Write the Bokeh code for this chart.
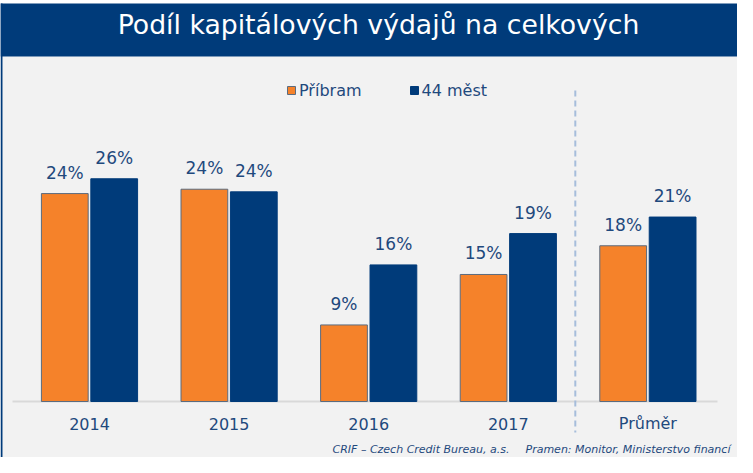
from bokeh.plotting import figure
from bokeh.models import ColumnDataSource, Range1d, Legend, LegendItem
from bokeh.transform import dodge
from bokeh.core.properties import value
from bokeh.embed import file_html
from bokeh.resources import INLINE

# ---- data ----
categories = ["2014", "2015", "2016", "2017", "Průměr"]
pribram = [23.9, 24.4, 8.8, 14.6, 17.9]
mest44 = [25.6, 24.1, 15.7, 19.3, 21.2]
series_names = ["Příbram", "44 měst"]
title_text = "Podíl kapitálových výdajů na celkových"
footer_left = "CRIF – Czech Credit Bureau, a.s."
footer_right = "Pramen: Monitor, Ministerstvo financí"

# ---- layout constants (pixels) ----
W, H = 737, 457
X0_PX, DX_PX = 89.0, 139.6     # first group center, group spacing
BASE_PX, K = 401.0, 8.7        # baseline pixel row, pixels per percent

def data_x(px):
    return (px - X0_PX) / DX_PX

def data_y(py):
    return (BASE_PX - py) / K

NAVY = "#003b7a"
ORANGE = "#f5822a"
TEXT = "#1f497d"
FONT_NAME = "DejaVu Sans"
FONT = value(FONT_NAME)

p = figure(width=W, height=H, output_backend="svg", toolbar_location=None,
           x_range=Range1d(data_x(0), data_x(W)), y_range=Range1d(data_y(H), data_y(0)),
           x_axis_location=None, y_axis_location=None, min_border=0,
           background_fill_color="white", border_fill_color="white",
           outline_line_color=None)
p.xgrid.visible = False
p.ygrid.visible = False

# decorations: gray panel, title bar, left border
p.quad(left=data_x(2), right=data_x(W + 5), top=data_y(56), bottom=data_y(H + 5),
       fill_color="#f2f2f2", line_color=None)
p.quad(left=data_x(0), right=data_x(W + 5), top=data_y(3), bottom=data_y(56),
       fill_color=NAVY, line_color=None)
p.quad(left=data_x(0), right=data_x(2), top=data_y(3), bottom=data_y(H + 5),
       fill_color=NAVY, line_color=None)
p.text(x=[data_x(378)], y=[data_y(24)], text=[title_text], text_color="white",
       text_font=FONT, text_font_size="26.7px", text_align="center",
       text_baseline="middle")

# axis line and separator
p.segment(x0=[data_x(12)], x1=[data_x(717)], y0=[0], y1=[0],
          line_color="#d9d9d9", line_width=2)
p.segment(x0=[3.48], x1=[3.48], y0=[data_y(90)], y1=[data_y(432)],
          line_color="#a6bddb", line_width=2, line_dash="6 4")

src = ColumnDataSource(dict(
    x=list(range(len(categories))),
    cat=categories,
    pribram=pribram,
    mest=mest44,
    lp=["{:.0f}%".format(v) for v in pribram],
    lm=["{:.0f}%".format(v) for v in mest44],
))

OFF, BW = 0.177, 0.335
r1 = p.vbar(x=dodge("x", -OFF, range=p.x_range), top="pribram", bottom=0, width=BW,
            source=src, fill_color=ORANGE, line_color="#5b6b7f", line_width=1)
r2 = p.vbar(x=dodge("x", OFF, range=p.x_range), top="mest", bottom=0, width=BW,
            source=src, fill_color=NAVY, line_color=NAVY, line_width=1)

p.text(x=dodge("x", -OFF, range=p.x_range), y="pribram", text="lp", source=src,
       y_offset=-21, text_align="center", text_baseline="middle",
       text_font=FONT, text_font_size="17px", text_color=TEXT)
p.text(x=dodge("x", OFF, range=p.x_range), y="mest", text="lm", source=src,
       y_offset=-21, text_align="center", text_baseline="middle",
       text_font=FONT, text_font_size="17px", text_color=TEXT)

# category labels
p.text(x="x", y=0, text="cat", source=src, y_offset=22, text_align="center",
       text_baseline="middle", text_font=FONT, text_font_size="16px",
       text_color=TEXT)

# footer
p.text(x=[data_x(332), data_x(525)], y=[data_y(449), data_y(449)],
       text=[footer_left, footer_right], text_align="left",
       text_baseline="middle", text_font=FONT, text_font_size="11px",
       text_font_style="italic", text_color=TEXT)

# legend
legend = Legend(items=[LegendItem(label=series_names[0], renderers=[r1]),
                       LegendItem(label=series_names[1], renderers=[r2])],
                orientation="horizontal", location=(286, H - 100),
                glyph_width=10, glyph_height=10, label_standoff=3, spacing=47,
                padding=0, margin=0, border_line_color=None,
                background_fill_alpha=0, label_text_font=FONT_NAME,
                label_text_font_size="16px", label_text_color=TEXT,
                label_height=20)
p.add_layout(legend, "center")

open("out.html", "w").write(file_html(p, INLINE))
